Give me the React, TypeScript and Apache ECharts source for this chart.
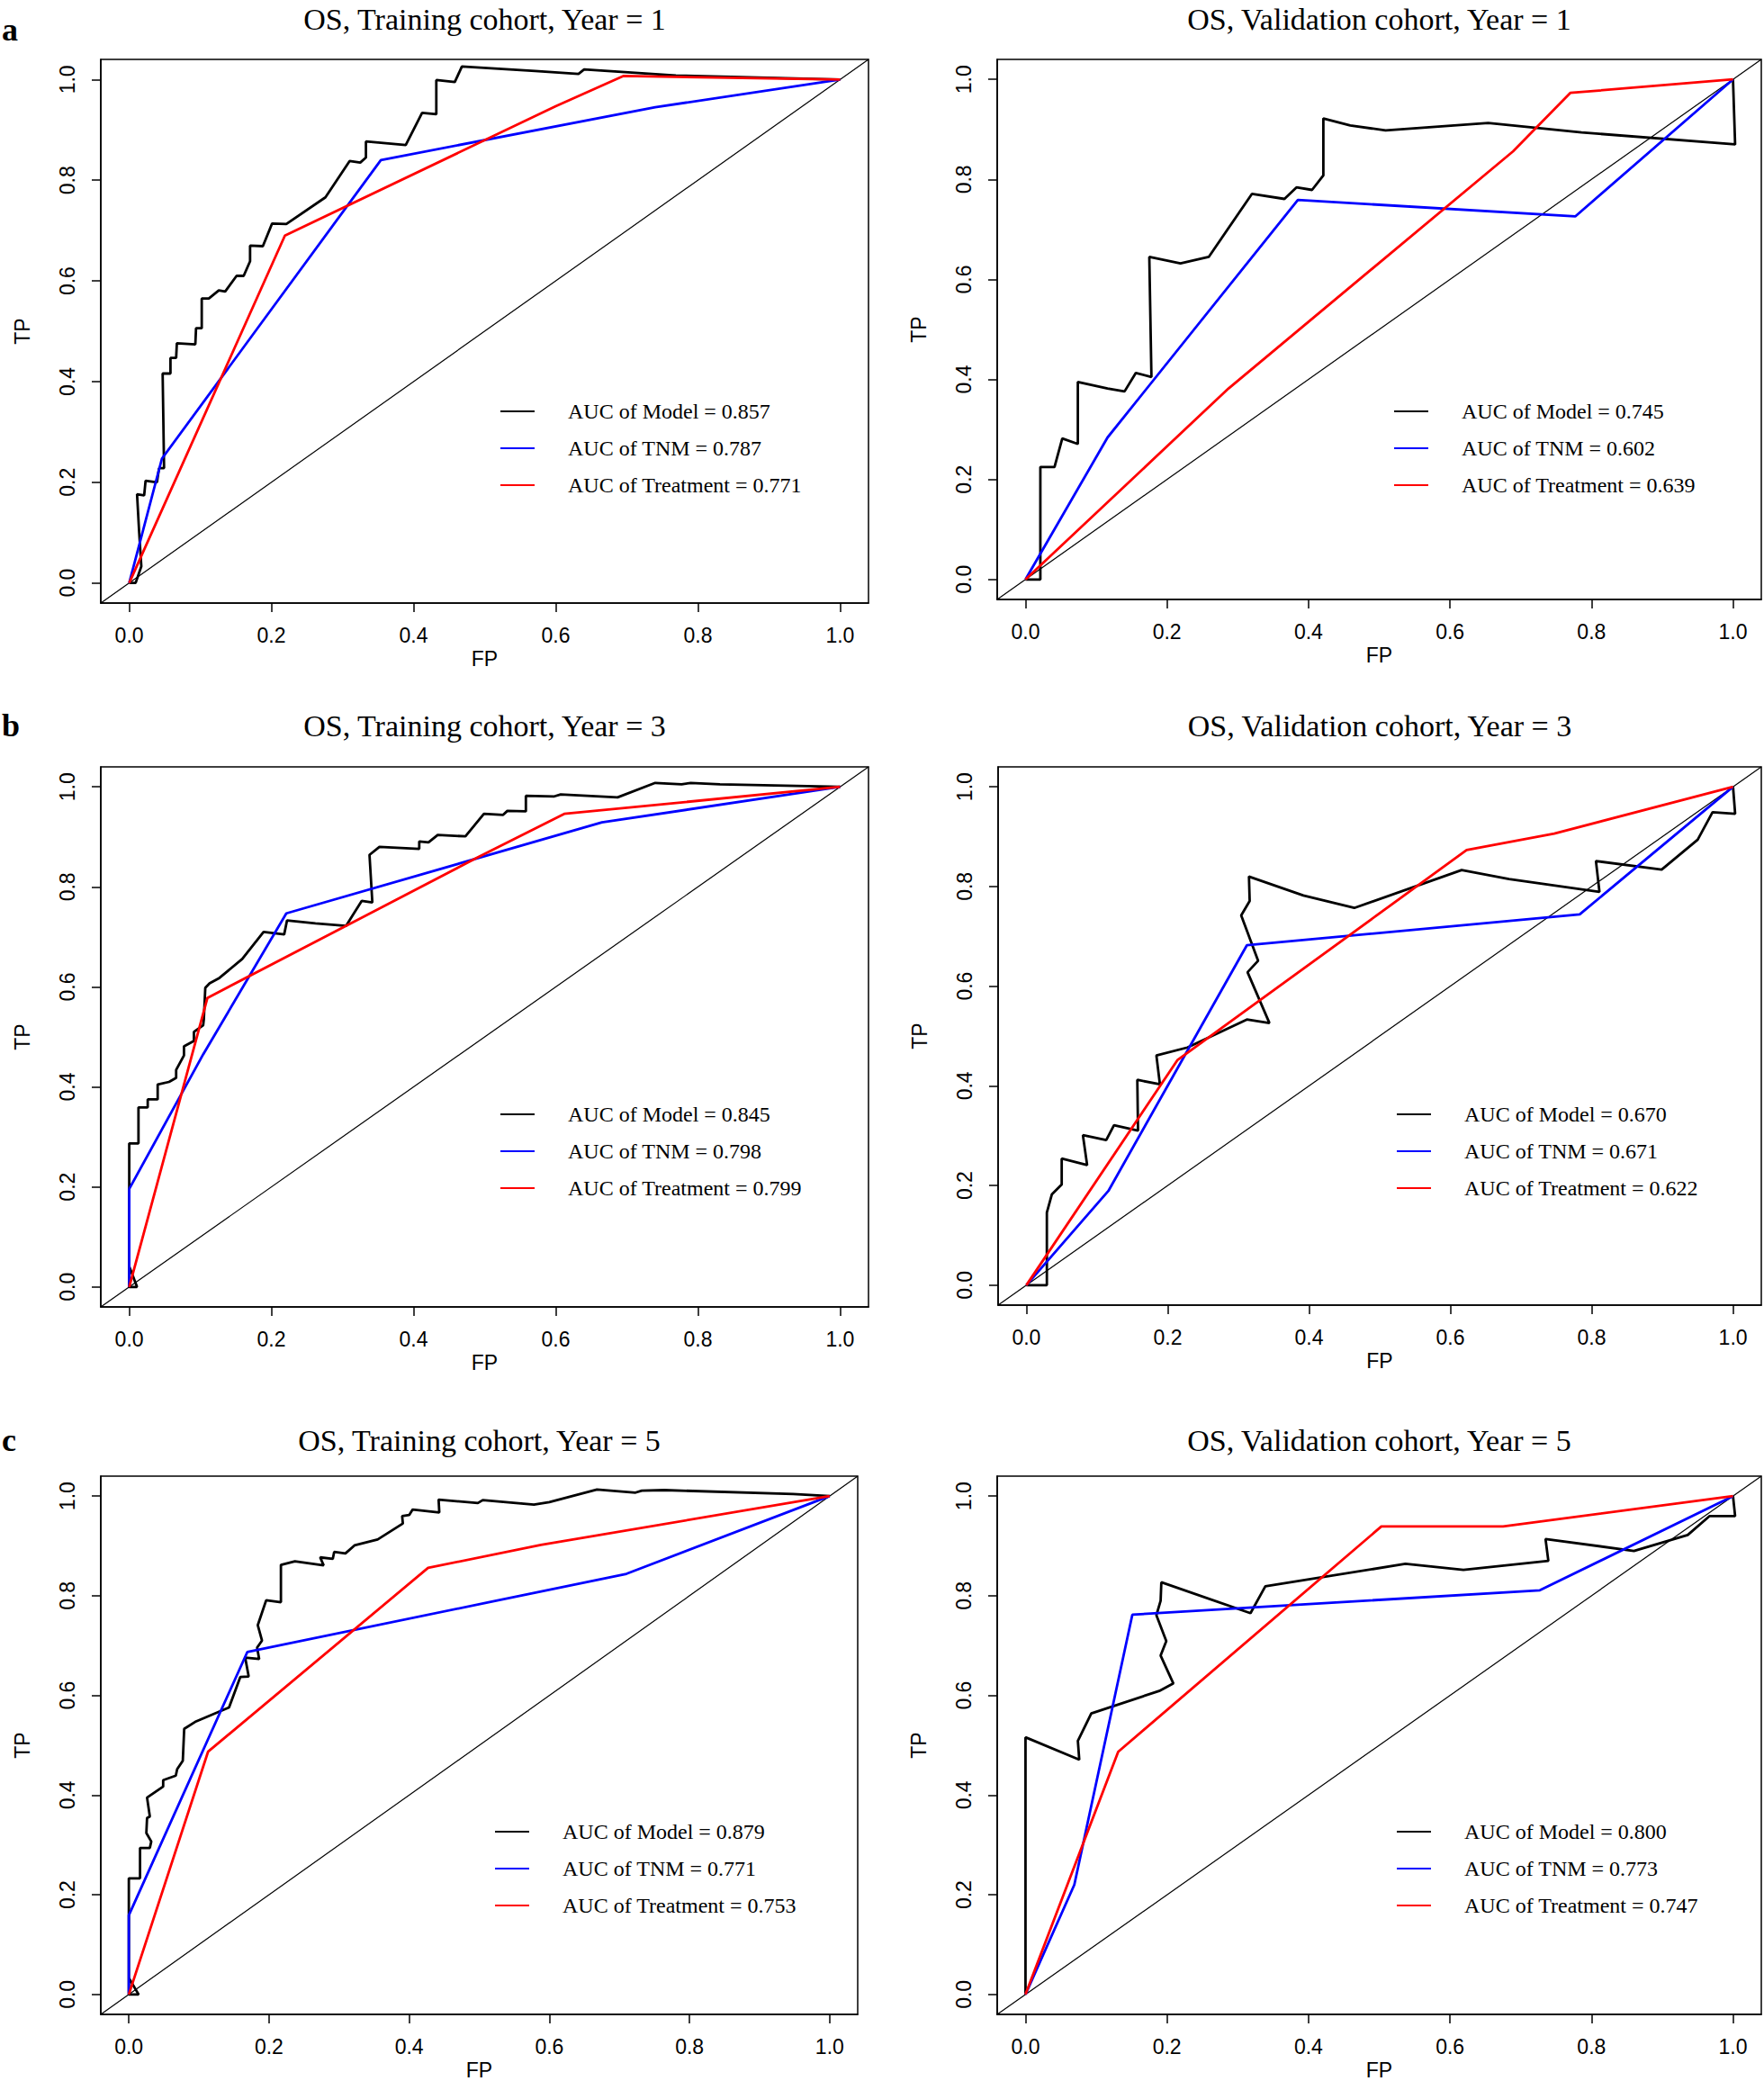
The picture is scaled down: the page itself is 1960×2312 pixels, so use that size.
import React, { useEffect, useRef } from "react";
import * as echarts from "echarts";

// ---------- data ----------
const TICKS = [0, 0.2, 0.4, 0.6, 0.8, 1.0];
const TITLES = [
  "OS, Training cohort, Year = 1",
  "OS, Validation cohort, Year = 1",
  "OS, Training cohort, Year = 3",
  "OS, Validation cohort, Year = 3",
  "OS, Training cohort, Year = 5",
  "OS, Validation cohort, Year = 5",
];
const LETTERS = ["a", "b", "c"];
const AUC_MODEL = ["0.857", "0.745", "0.845", "0.670", "0.879", "0.800"];
const AUC_TNM = ["0.787", "0.602", "0.798", "0.671", "0.771", "0.773"];
const AUC_TREAT = ["0.771", "0.639", "0.799", "0.622", "0.753", "0.747"];

const modelTrain1 = [[0,0],[0.009,0],[0.017,0.033],[0.014,0.1],[0.011,0.176],[0.021,0.174],[0.023,0.203],[0.039,0.2],[0.042,0.228],[0.049,0.228],[0.047,0.416],[0.058,0.416],[0.058,0.447],[0.066,0.447],[0.067,0.476],[0.093,0.474],[0.094,0.506],[0.102,0.506],[0.102,0.565],[0.112,0.565],[0.126,0.581],[0.135,0.579],[0.151,0.61],[0.161,0.61],[0.17,0.639],[0.17,0.67],[0.188,0.669],[0.201,0.714],[0.221,0.713],[0.276,0.766],[0.31,0.838],[0.325,0.835],[0.333,0.845],[0.333,0.877],[0.389,0.87],[0.412,0.934],[0.432,0.931],[0.432,0.999],[0.458,0.995],[0.468,1.026],[0.571,1.017],[0.632,1.011],[0.64,1.02],[0.769,1.008],[1,1]];
const tnmTrain1 = [[0,0],[0.046,0.247],[0.354,0.84],[0.74,0.945],[1,1]];
const treatTrain1 = [[0,0],[0.219,0.69],[0.6,0.947],[0.695,1.007],[1,1]];

const modelValid1 = [[0,0],[0.021,0],[0.021,0.225],[0.041,0.225],[0.052,0.282],[0.074,0.271],[0.074,0.395],[0.116,0.382],[0.14,0.376],[0.156,0.413],[0.178,0.405],[0.175,0.645],[0.219,0.632],[0.259,0.645],[0.32,0.771],[0.366,0.761],[0.383,0.784],[0.405,0.779],[0.421,0.808],[0.421,0.922],[0.459,0.908],[0.509,0.898],[0.654,0.913],[0.786,0.894],[1.003,0.87],[1,1]];
const tnmValid1 = [[0,0],[0.116,0.284],[0.385,0.759],[0.777,0.726],[1,1]];
const treatValid1 = [[0,0],[0.287,0.382],[0.689,0.856],[0.77,0.973],[1,1]];

const modelTrain3 = [[0,0.041],[0.011,0],[0,0],[0,0.287],[0.013,0.287],[0.013,0.359],[0.026,0.359],[0.026,0.375],[0.04,0.375],[0.04,0.405],[0.056,0.41],[0.066,0.418],[0.066,0.434],[0.077,0.463],[0.077,0.481],[0.091,0.492],[0.091,0.51],[0.104,0.523],[0.105,0.536],[0.107,0.598],[0.113,0.607],[0.127,0.618],[0.159,0.656],[0.189,0.71],[0.218,0.705],[0.222,0.733],[0.262,0.727],[0.305,0.722],[0.327,0.772],[0.342,0.769],[0.338,0.864],[0.352,0.88],[0.408,0.876],[0.408,0.891],[0.421,0.889],[0.434,0.904],[0.473,0.901],[0.499,0.946],[0.526,0.944],[0.532,0.952],[0.558,0.951],[0.558,0.982],[0.598,0.981],[0.607,0.985],[0.687,0.979],[0.74,1.008],[0.777,1.005],[0.79,1.008],[0.831,1.005],[1,1]];
const tnmTrain3 = [[0,0],[0,0.196],[0.104,0.465],[0.221,0.747],[0.665,0.929],[1,1]];
const treatTrain3 = [[0,0],[0.11,0.578],[0.489,0.858],[0.612,0.946],[1,1]];

const modelValid3 = [[0,0],[0.029,0],[0.029,0.146],[0.036,0.182],[0.05,0.202],[0.05,0.254],[0.086,0.241],[0.08,0.301],[0.113,0.291],[0.124,0.321],[0.158,0.31],[0.157,0.412],[0.189,0.403],[0.184,0.461],[0.228,0.477],[0.312,0.533],[0.344,0.526],[0.313,0.628],[0.328,0.651],[0.304,0.742],[0.316,0.771],[0.315,0.82],[0.392,0.782],[0.464,0.757],[0.616,0.833],[0.683,0.815],[0.811,0.789],[0.806,0.851],[0.899,0.834],[0.95,0.894],[0.971,0.949],[1.003,0.946],[1,1]];
const tnmValid3 = [[0,0],[0.116,0.189],[0.312,0.682],[0.783,0.744],[1,1]];
const treatValid3 = [[0,0],[0.214,0.452],[0.623,0.873],[0.747,0.906],[1,1]];

const modelTrain5 = [[0,0.033],[0.014,0],[0,0],[0,0.233],[0.016,0.233],[0.016,0.294],[0.03,0.294],[0.032,0.307],[0.025,0.324],[0.026,0.354],[0.03,0.357],[0.026,0.395],[0.049,0.417],[0.049,0.43],[0.067,0.439],[0.069,0.452],[0.077,0.469],[0.079,0.533],[0.096,0.548],[0.143,0.576],[0.159,0.637],[0.171,0.638],[0.166,0.676],[0.186,0.673],[0.183,0.696],[0.19,0.71],[0.184,0.741],[0.196,0.791],[0.217,0.787],[0.217,0.862],[0.237,0.869],[0.278,0.861],[0.273,0.877],[0.291,0.874],[0.293,0.888],[0.309,0.885],[0.322,0.901],[0.355,0.913],[0.391,0.945],[0.39,0.96],[0.4,0.962],[0.405,0.973],[0.443,0.967],[0.442,0.993],[0.498,0.986],[0.505,0.992],[0.578,0.983],[0.6,0.988],[0.668,1.013],[0.723,1.007],[0.732,1.011],[0.764,1.012],[0.948,1.004],[1,1]];
const tnmTrain5 = [[0,0],[0,0.159],[0.169,0.687],[0.71,0.844],[1,1]];
const treatTrain5 = [[0,0],[0.113,0.487],[0.427,0.856],[0.588,0.902],[1,1]];

const modelValid5 = [[0,0],[0,0.516],[0.076,0.471],[0.074,0.509],[0.093,0.564],[0.189,0.609],[0.209,0.624],[0.191,0.68],[0.199,0.709],[0.185,0.761],[0.191,0.79],[0.192,0.827],[0.318,0.765],[0.339,0.819],[0.537,0.864],[0.619,0.852],[0.739,0.87],[0.735,0.914],[0.86,0.89],[0.936,0.922],[0.967,0.96],[1.003,0.96],[1,1]];
const tnmValid5 = [[0,0],[0.069,0.22],[0.151,0.762],[0.727,0.811],[1,1]];
const treatValid5 = [[0,0],[0.131,0.487],[0.503,0.939],[0.675,0.939],[1,1]];

const MODEL = [modelTrain1, modelValid1, modelTrain3, modelValid3, modelTrain5, modelValid5];
const TNM = [tnmTrain1, tnmValid1, tnmTrain3, tnmValid3, tnmTrain5, tnmValid5];
const TREAT = [treatTrain1, treatValid1, treatTrain3, treatValid3, treatTrain5, treatValid5];
const DIAG = [[-0.04, -0.04], [1.04, 1.04]];

// ---------- layout ----------
const GRIDS = [
  { left: 112, top: 66, width: 853, height: 604 },
  { left: 1108, top: 66, width: 849, height: 600 },
  { left: 112, top: 852, width: 853, height: 600 },
  { left: 1109, top: 852, width: 848, height: 598 },
  { left: 112, top: 1640, width: 841, height: 600 },
  { left: 1108, top: 1640, width: 849, height: 600 },
];
const LEGEND_POS = [
  { left: 556, top: 445 },
  { left: 1549, top: 445 },
  { left: 556, top: 1226 },
  { left: 1552, top: 1226 },
  { left: 550, top: 2023 },
  { left: 1552, top: 2023 },
];
const TITLE_Y = [21, 21, 806, 806, 1600, 1600];
const LETTER_Y = [33, 806, 1600];

const SERIF = "'Liberation Serif', 'Times New Roman', serif";
const SANS = "'Liberation Sans', Arial, sans-serif";

function buildOption() {
  const grid: any[] = [];
  const xAxis: any[] = [];
  const yAxis: any[] = [];
  const series: any[] = [];
  const legend: any[] = [];
  const graphic: any[] = [];

  GRIDS.forEach((g, i) => {
    grid.push({ ...g, show: true, borderColor: "#000", borderWidth: 1.5, backgroundColor: "transparent", containLabel: false });
    xAxis.push({
      type: "value", gridIndex: i, min: -0.04, max: 1.04, position: "bottom",
      axisLine: { show: true, onZero: false, lineStyle: { color: "#000", width: 1.5 } },
      axisTick: { show: true, inside: false, customValues: TICKS, length: 10, lineStyle: { color: "#000", width: 1.5 } },
      axisLabel: { show: true, customValues: TICKS, formatter: (v: number) => v.toFixed(1), color: "#000", fontSize: 23, fontFamily: SANS, margin: 24 },
      splitLine: { show: false },
      name: "FP", nameLocation: "middle", nameGap: 50,
      nameTextStyle: { color: "#000", fontSize: 23, fontFamily: SANS },
    });
    yAxis.push({
      type: "value", gridIndex: i, min: -0.04, max: 1.04, position: "left",
      axisLine: { show: true, onZero: false, lineStyle: { color: "#000", width: 1.5 } },
      axisTick: { show: true, inside: false, customValues: TICKS, length: 10, lineStyle: { color: "#000", width: 1.5 } },
      axisLabel: { show: true, customValues: TICKS, formatter: (v: number) => v.toFixed(1), color: "#000", fontSize: 23, fontFamily: SANS, margin: 26, rotate: 90 },
      splitLine: { show: false },
      name: "TP", nameLocation: "middle", nameGap: 76, nameRotate: 90,
      nameTextStyle: { color: "#000", fontSize: 23, fontFamily: SANS },
    });
    const nModel = "AUC of Model = " + AUC_MODEL[i];
    const nTnm = "AUC of TNM = " + AUC_TNM[i];
    const nTreat = "AUC of Treatment = " + AUC_TREAT[i];
    const common = { type: "line", xAxisIndex: i, yAxisIndex: i, symbol: "none", showSymbol: false, clip: true, silent: true };
    series.push({ ...common, name: "diag" + i, data: DIAG, lineStyle: { color: "#000", width: 1.2 }, z: 2 });
    series.push({ ...common, name: nModel, data: MODEL[i], color: "#000", lineStyle: { color: "#000", width: 2.8 }, z: 3 });
    series.push({ ...common, name: nTnm, data: TNM[i], color: "#0000ff", lineStyle: { color: "#0000ff", width: 2.8 }, z: 4 });
    series.push({ ...common, name: nTreat, data: TREAT[i], color: "#ff0000", lineStyle: { color: "#ff0000", width: 2.8 }, z: 5 });
    legend.push({
      ...LEGEND_POS[i], orient: "vertical", padding: 0, itemGap: 17, itemWidth: 38, itemHeight: 2,
      icon: "rect", selectedMode: false, data: [nModel, nTnm, nTreat],
      textStyle: { color: "#000", fontSize: 24, fontFamily: SERIF, padding: [0, 0, 0, 32] },
    });
    graphic.push({
      type: "text", x: g.left + g.width / 2, y: TITLE_Y[i],
      style: { text: TITLES[i], font: `34px ${SERIF}`, fill: "#000", textAlign: "center", textVerticalAlign: "middle" },
    });
  });
  LETTERS.forEach((l, r) => {
    graphic.push({
      type: "text", x: 2, y: LETTER_Y[r],
      style: { text: l, font: `bold 36px ${SERIF}`, fill: "#000", textAlign: "left", textVerticalAlign: "middle" },
    });
  });

  return { animation: false, backgroundColor: "#fff", grid, xAxis, yAxis, series, legend, graphic };
}

export default function App() {
  const ref = useRef<HTMLDivElement>(null);
  useEffect(() => {
    if (!ref.current) return;
    const chart = echarts.init(ref.current, undefined, { renderer: "svg" });
    chart.setOption(buildOption() as any);
    return () => chart.dispose();
  }, []);
  return <div ref={ref} style={{ position: "absolute", left: 0, top: 0, width: 1960, height: 2312, background: "#fff" }} />;
}
